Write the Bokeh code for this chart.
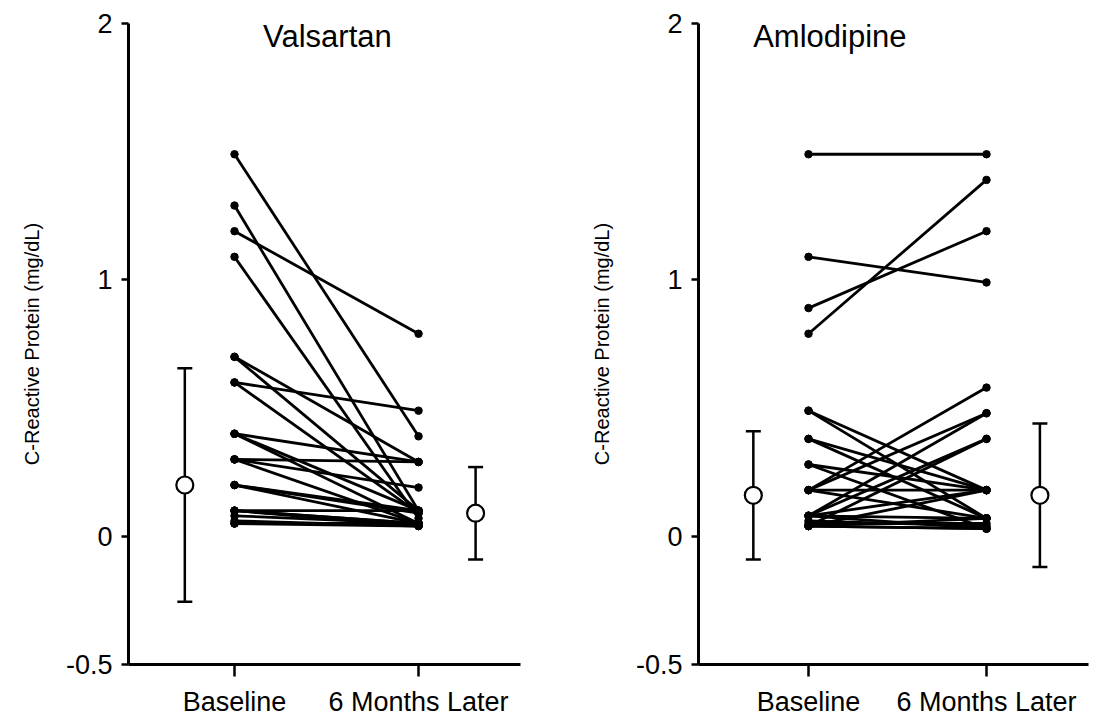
from bokeh.plotting import figure
from bokeh.layouts import row
from bokeh.models import ColumnDataSource, Whisker, TeeHead, FixedTicker, Range1d
from bokeh.core.properties import value
from bokeh.embed import file_html
from bokeh.resources import INLINE

# ---------------- data ----------------
categories = ["Baseline", "6 Months Later"]
y_ticks = [-0.5, 0, 1, 2]
y_tick_labels = ["-0.5", "0", "1", "2"]
panel_titles = ["Valsartan", "Amlodipine"]
y_label = "C-Reactive Protein (mg/dL)"

valsartan_baseline = [1.49, 1.29, 1.19, 1.09, 0.70, 0.70, 0.60, 0.60, 0.40, 0.40, 0.40,
                      0.30, 0.30, 0.30, 0.20, 0.20, 0.20, 0.10, 0.10, 0.10, 0.10,
                      0.05, 0.05, 0.05, 0.06, 0.08]
valsartan_later = [0.39, 0.10, 0.79, 0.07, 0.29, 0.10, 0.49, 0.09, 0.29, 0.10, 0.05,
                   0.29, 0.19, 0.05, 0.10, 0.09, 0.05, 0.10, 0.05, 0.05, 0.04,
                   0.05, 0.04, 0.05, 0.04, 0.05]

amlodipine_baseline = [1.49, 1.09, 0.89, 0.79, 0.49, 0.49, 0.38, 0.38, 0.28, 0.28,
                       0.18, 0.18, 0.18, 0.18, 0.08, 0.08, 0.08, 0.08, 0.08,
                       0.04, 0.04, 0.04, 0.04, 0.04, 0.05, 0.06]
amlodipine_later = [1.49, 0.99, 1.19, 1.39, 0.18, 0.07, 0.18, 0.07, 0.18, 0.03,
                    0.58, 0.48, 0.18, 0.07, 0.48, 0.38, 0.18, 0.03, 0.07,
                    0.38, 0.07, 0.03, 0.18, 0.03, 0.05, 0.04]

# mean +/- SD markers (baseline, 6 months later)
valsartan_mean = [0.20, 0.09]
valsartan_sd = [0.455, 0.18]
amlodipine_mean = [0.16, 0.16]
amlodipine_sd = [0.25, 0.28]

FONT = "Liberation Sans"


def make_panel(title, base, later, mean, sd, x_range, mean_x, title_x,
               width, height, b_left, b_right, b_top, b_bottom):
    p = figure(width=width, height=height, output_backend="svg",
               toolbar_location=None, x_range=Range1d(*x_range),
               y_range=Range1d(-0.5, 2.0),
               min_border_left=b_left, min_border_right=b_right,
               min_border_top=b_top, min_border_bottom=b_bottom)
    p.outline_line_color = None
    p.grid.visible = False
    p.background_fill_color = "white"
    p.border_fill_color = "white"

    # axes
    p.xaxis.ticker = FixedTicker(ticks=[1, 2])
    p.xaxis.major_label_overrides = {1: categories[0], 2: categories[1]}
    p.yaxis.ticker = FixedTicker(ticks=y_ticks)
    p.yaxis.major_label_overrides = {t: l for t, l in zip(y_ticks, y_tick_labels)}
    for ax in (p.xaxis, p.yaxis):
        ax.axis_line_width = 3
        ax.axis_line_color = "black"
        ax.major_tick_line_width = 2.5
        ax.major_tick_line_color = "black"
        ax.major_tick_in = 0
        ax.minor_tick_line_color = None
        ax.major_label_text_font = FONT
        ax.major_label_text_color = "black"
        ax.major_label_text_font_size = "27px"
    p.xaxis.major_tick_out = 12
    p.xaxis.major_label_standoff = 10
    p.yaxis.major_tick_out = 7
    p.yaxis.major_label_standoff = 9
    p.yaxis.axis_label = y_label
    p.yaxis.axis_label_text_font = FONT
    p.yaxis.axis_label_text_font_style = "normal"
    p.yaxis.axis_label_text_font_size = "20px"
    p.yaxis.axis_label_text_color = "black"
    p.yaxis.axis_label_standoff = 20

    # individual patient lines
    n = len(base)
    src = ColumnDataSource(dict(x0=[1] * n, y0=base, x1=[2] * n, y1=later))
    p.segment(x0="x0", y0="y0", x1="x1", y1="y1", source=src,
              line_color="black", line_width=2.8)
    p.scatter(x=[1] * n, y=base, size=7.5, color="black")
    p.scatter(x=[2] * n, y=later, size=7.5, color="black")

    # mean +/- SD
    msrc = ColumnDataSource(dict(x=mean_x, m=mean,
                                 up=[m + s for m, s in zip(mean, sd)],
                                 lo=[m - s for m, s in zip(mean, sd)]))
    w = Whisker(base="x", upper="up", lower="lo", source=msrc, dimension="height",
                line_color="black", line_width=2.5,
                upper_head=TeeHead(size=15, line_width=2.5, line_color="black"),
                lower_head=TeeHead(size=15, line_width=2.5, line_color="black"))
    p.add_layout(w)
    p.scatter(x="x", y="m", source=msrc, size=17, fill_color="white",
              line_color="black", line_width=2.2)

    # panel title
    p.text(x=[title_x], y=[1.95], text=[title], text_font=value(FONT),
           text_font_size="31px", text_align="center", text_baseline="middle",
           text_color="black")
    return p


p1 = make_panel(panel_titles[0], valsartan_baseline, valsartan_later,
                valsartan_mean, valsartan_sd, (0.424, 2.554), [0.73, 2.31], 1.505,
                550, 720, 128, 30, 23, 56)
p2 = make_panel(panel_titles[1], amlodipine_baseline, amlodipine_later,
                amlodipine_mean, amlodipine_sd, (0.382, 2.573), [0.69, 2.30], 1.12,
                541, 720, 148, 3, 23, 56)

layout = row(p1, p2)
layout.spacing = 0
open("out.html", "w").write(file_html(layout, INLINE))
